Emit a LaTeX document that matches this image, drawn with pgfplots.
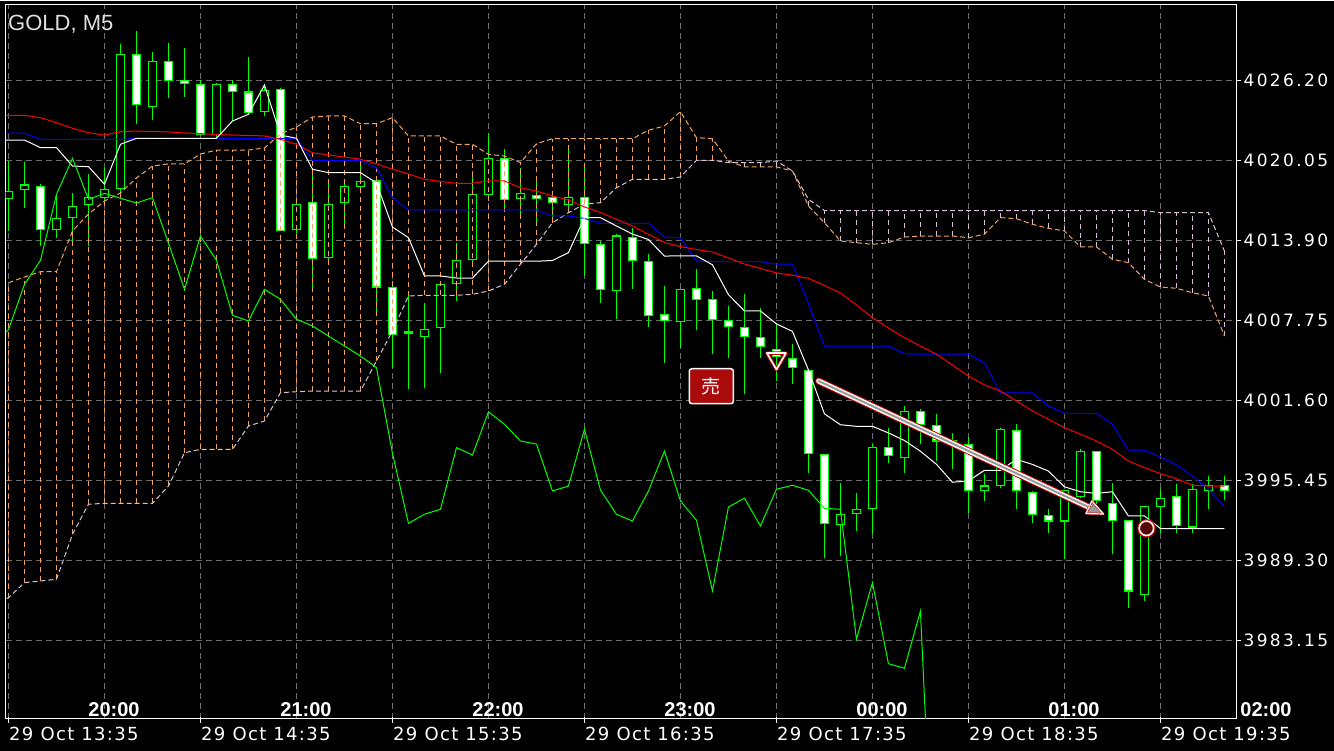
\documentclass[border=0pt]{standalone}
\usepackage{fontspec}
\setmainfont{Liberation Sans}
\newfontfamily\pricefont[LetterSpace=14]{DejaVu Sans}
\newfontfamily\datefont[LetterSpace=7.5]{DejaVu Sans}
\newfontfamily\cjk{Noto Sans CJK JP}
\usepackage{pgfplots}
\pgfplotsset{compat=1.18}
\usepackage{pgfplotstable}
\usetikzlibrary{calc}

\definecolor{cLime}{HTML}{00FF00}
\definecolor{cSandy}{HTML}{F4A460}
\definecolor{cThistle}{HTML}{D8BFD8}
\definecolor{cGrid}{HTML}{6E6E6E}
\definecolor{cKijun}{HTML}{0000FF}
\definecolor{cRed}{HTML}{FF0000}
\definecolor{cSell}{HTML}{AA0A0A}
\definecolor{cMarkRed}{HTML}{C80000}
\definecolor{cDarkRed}{HTML}{5A0505}

\pgfplotstableread{
k o h l c
0 4017.13 4020.00 4014.62 4017.64
1 4017.82 4019.94 4016.41 4018.15
2 4018.05 4018.21 4013.46 4014.75
3 4014.75 4017.44 4014.10 4015.59
4 4015.67 4017.54 4013.46 4016.51
5 4016.67 4019.00 4013.46 4017.18
6 4017.18 4019.48 4016.54 4017.79
7 4017.90 4029.01 4017.18 4028.20
8 4028.20 4029.99 4022.82 4024.35
9 4024.20 4028.40 4023.17 4027.66
10 4027.66 4029.07 4024.86 4026.20
11 4026.15 4028.71 4024.92 4025.99
12 4025.89 4026.20 4021.92 4022.05
13 4022.05 4026.02 4021.79 4025.89
14 4025.89 4026.20 4023.07 4025.32
15 4025.30 4027.99 4023.59 4023.76
16 4023.82 4025.89 4023.46 4025.43
17 4025.51 4025.59 4014.62 4014.69
18 4014.75 4017.15 4014.46 4016.67
19 4016.82 4019.48 4010.13 4012.52
20 4012.59 4018.46 4012.31 4016.67
21 4016.82 4018.61 4015.00 4018.00
22 4018.05 4019.61 4017.92 4018.44
23 4018.46 4018.61 4008.08 4010.31
24 4010.26 4010.77 4004.11 4006.67
25 4006.85 4009.62 4002.45 4006.77
26 4006.52 4009.10 4002.57 4007.03
27 4007.18 4010.52 4003.72 4010.52
28 4010.59 4013.72 4009.23 4012.36
29 4012.44 4019.23 4012.15 4017.44
30 4017.44 4022.17 4016.92 4020.20
31 4020.20 4020.90 4016.38 4017.05
32 4017.13 4019.48 4015.64 4017.51
33 4017.36 4018.61 4015.00 4017.13
34 4017.21 4017.54 4015.46 4016.77
35 4016.67 4020.92 4016.08 4017.18
36 4017.18 4019.46 4011.16 4013.67
37 4013.59 4013.85 4009.10 4010.13
38 4010.06 4014.41 4007.83 4014.23
39 4014.15 4014.87 4010.13 4012.36
40 4012.26 4012.82 4007.24 4008.13
41 4008.21 4010.39 4004.49 4007.70
42 4007.67 4010.13 4005.64 4010.13
43 4010.18 4011.67 4006.98 4009.36
44 4009.33 4010.00 4005.14 4007.83
45 4007.75 4008.85 4004.87 4007.31
46 4007.18 4009.75 4002.06 4006.54
47 4006.41 4008.72 4004.87 4005.77
48 4005.52 4007.57 4003.08 4005.00
49 4004.83 4005.90 4002.83 4004.11
50 4003.91 4003.95 3996.03 3997.53
51 3997.45 3997.50 3989.45 3992.14
52 3992.07 3995.27 3989.63 3992.84
53 3992.91 3994.50 3991.55 3993.22
54 3993.30 3998.22 3991.30 3997.96
55 3997.96 3999.49 3996.80 3997.39
56 3997.19 4001.16 3995.99 4000.72
57 4000.72 4000.91 3998.22 3999.76
58 3999.68 4000.52 3996.93 3998.47
59 3998.47 3999.09 3996.30 3998.24
60 3998.22 3998.78 3992.96 3994.63
61 3994.63 3995.91 3993.86 3995.01
62 3995.07 3999.49 3994.88 3999.37
63 3999.29 3999.76 3993.22 3994.70
64 3994.50 3994.63 3992.19 3992.84
65 3992.76 3993.22 3991.42 3992.32
66 3992.32 3994.63 3989.38 3994.63
67 3994.24 3997.83 3994.11 3997.70
68 3997.70 3997.72 3993.61 3993.86
69 3993.68 3995.27 3989.76 3992.38
70 3992.38 3992.40 3985.66 3986.94
71 3986.69 3993.40 3986.17 3993.40
72 3993.40 3994.76 3991.42 3994.07
73 3994.22 3995.14 3991.42 3991.94
74 3991.86 3995.14 3991.42 3994.76
75 3994.63 3995.78 3993.22 3995.07
76 3995.07 3995.78 3993.91 3994.68
}\candles

% cloud, part where span A is above span B (sandy hatching)
\pgfplotstableread{
k A B
0 4010.64 3986.43
1 4011.08 3987.58
2 4011.49 3987.71
3 4011.49 3987.84
4 4014.62 3991.30
5 4015.92 3993.61
6 4016.92 3993.68
7 4017.54 3993.68
8 4018.69 3993.68
9 4019.61 3993.68
10 4019.77 3995.01
11 4019.77 3997.57
12 4020.53 3997.83
13 4020.84 3997.83
14 4020.84 3997.83
15 4020.84 3999.62
16 4021.00 4000.01
17 4022.07 4002.18
18 4022.61 4002.26
19 4023.38 4002.31
20 4023.46 4002.31
21 4023.46 4002.31
22 4022.86 4002.31
23 4022.86 4004.62
24 4023.33 4006.93
25 4021.92 4009.62
26 4021.92 4009.67
27 4021.92 4009.67
28 4021.28 4009.67
29 4021.28 4009.75
30 4020.51 4010.00
31 4020.38 4010.52
32 4019.87 4012.06
33 4021.33 4013.59
34 4021.71 4015.25
35 4021.71 4016.02
36 4021.71 4016.69
37 4021.71 4016.79
38 4021.71 4017.94
39 4021.71 4018.59
40 4022.36 4018.59
41 4022.69 4018.59
42 4023.79 4018.77
43 4021.79 4020.05
44 4021.71 4020.05
45 4020.00 4019.87
}\cloudup

% cloud, part where span B is above span A (thistle hatching)
\pgfplotstableread{
k A B
46 4019.54 4019.87
47 4019.54 4019.87
48 4019.54 4020.00
50 4016.54 4017.05
51 4015.25 4016.19
52 4013.85 4016.19
53 4013.72 4016.19
54 4013.59 4016.19
55 4013.72 4016.19
56 4014.15 4016.19
57 4014.23 4016.19
58 4014.23 4016.19
59 4014.23 4016.19
60 4014.10 4016.19
61 4014.36 4016.19
62 4015.64 4016.19
63 4015.56 4016.19
64 4015.13 4016.19
65 4014.82 4016.19
66 4014.62 4016.19
67 4013.39 4016.19
68 4013.39 4016.19
69 4012.44 4016.19
70 4012.18 4016.19
71 4010.90 4016.19
72 4010.31 4016.02
73 4010.21 4016.02
74 4009.87 4016.02
75 4009.62 4016.02
76 4006.54 4013.08
}\clouddown

% full senkou spans (for the boundary lines)
\pgfplotstableread{
k A B
-1 4010.64 3985.79
0 4010.64 3986.43
1 4011.08 3987.58
2 4011.49 3987.71
3 4011.49 3987.84
4 4014.62 3991.30
5 4015.92 3993.61
6 4016.92 3993.68
7 4017.54 3993.68
8 4018.69 3993.68
9 4019.61 3993.68
10 4019.77 3995.01
11 4019.77 3997.57
12 4020.53 3997.83
13 4020.84 3997.83
14 4020.84 3997.83
15 4020.84 3999.62
16 4021.00 4000.01
17 4022.07 4002.18
18 4022.61 4002.26
19 4023.38 4002.31
20 4023.46 4002.31
21 4023.46 4002.31
22 4022.86 4002.31
23 4022.86 4004.62
24 4023.33 4006.93
25 4021.92 4009.62
26 4021.92 4009.67
27 4021.92 4009.67
28 4021.28 4009.67
29 4021.28 4009.75
30 4020.51 4010.00
31 4020.38 4010.52
32 4019.87 4012.06
33 4021.33 4013.59
34 4021.71 4015.25
35 4021.71 4016.02
36 4021.71 4016.69
37 4021.71 4016.79
38 4021.71 4017.94
39 4021.71 4018.59
40 4022.36 4018.59
41 4022.69 4018.59
42 4023.79 4018.77
43 4021.79 4020.05
44 4021.71 4020.05
45 4020.00 4019.87
46 4019.54 4019.87
47 4019.54 4019.87
48 4019.54 4020.00
49 4019.23 4019.23
50 4016.54 4017.05
51 4015.25 4016.19
52 4013.85 4016.19
53 4013.72 4016.19
54 4013.59 4016.19
55 4013.72 4016.19
56 4014.15 4016.19
57 4014.23 4016.19
58 4014.23 4016.19
59 4014.23 4016.19
60 4014.10 4016.19
61 4014.36 4016.19
62 4015.64 4016.19
63 4015.56 4016.19
64 4015.13 4016.19
65 4014.82 4016.19
66 4014.62 4016.19
67 4013.39 4016.19
68 4013.39 4016.19
69 4012.44 4016.19
70 4012.18 4016.19
71 4010.90 4016.19
72 4010.31 4016.02
73 4010.21 4016.02
74 4009.87 4016.02
75 4009.62 4016.02
76 4006.54 4013.08
}\cloud

\pgfplotstableread{
k v
-1 4021.61
0 4021.61
1 4021.61
2 4021.02
3 4021.02
4 4019.61
5 4019.56
6 4018.21
7 4021.28
8 4021.74
9 4021.74
10 4021.74
11 4021.74
12 4021.74
13 4021.74
14 4023.07
15 4023.59
16 4025.84
17 4021.99
18 4021.74
19 4019.36
20 4019.10
21 4019.10
22 4019.10
23 4018.31
24 4014.92
25 4014.10
26 4011.16
27 4011.16
28 4011.00
29 4011.00
30 4012.29
31 4012.29
32 4012.29
33 4012.29
34 4012.35
35 4012.95
36 4015.65
37 4015.64
38 4015.00
39 4014.38
40 4013.96
41 4012.69
42 4012.70
43 4012.70
44 4012.02
45 4009.72
46 4008.47
47 4008.47
48 4007.47
49 4006.90
50 4003.93
51 4000.56
52 3999.72
53 3999.60
54 3999.60
55 3999.09
56 3998.51
57 3997.68
58 3996.68
59 3995.30
60 3995.40
61 3996.22
62 3996.22
63 3997.06
64 3996.67
65 3996.16
66 3994.95
67 3994.57
68 3994.44
69 3994.57
70 3992.71
71 3992.71
72 3991.74
73 3991.74
74 3991.74
75 3991.74
76 3991.74
}\tenkan

\pgfplotstableread{
k v
-1 4022.13
0 4022.13
1 4022.13
2 4021.66
3 4021.66
4 4021.66
5 4021.66
6 4021.66
7 4021.66
8 4021.74
9 4021.74
10 4021.74
11 4021.74
12 4021.74
13 4021.74
14 4021.74
15 4021.74
16 4021.74
17 4021.74
18 4021.74
19 4020.05
20 4020.05
21 4020.05
22 4020.05
23 4019.48
24 4017.18
25 4016.23
26 4016.23
27 4016.23
28 4016.23
29 4016.23
30 4016.23
31 4016.23
32 4016.23
33 4016.23
34 4015.77
35 4015.77
36 4015.58
37 4015.21
38 4015.21
39 4015.21
40 4015.21
41 4014.15
42 4014.08
43 4012.31
44 4012.27
45 4012.27
46 4012.27
47 4012.27
48 4012.06
49 4012.06
50 4009.04
51 4005.77
52 4005.77
53 4005.77
54 4005.77
55 4005.77
56 4005.18
57 4005.14
58 4005.14
59 4005.14
60 4005.14
61 4004.49
62 4002.18
63 4002.18
64 4002.18
65 4001.16
66 4000.60
67 4000.60
68 4000.60
69 3999.76
70 3997.76
71 3997.76
72 3997.24
73 3996.63
74 3995.78
75 3994.76
76 3993.47
}\kijun

\pgfplotstableread{
k v
-1 4023.51
0 4023.51
1 4023.51
2 4023.33
3 4022.94
4 4022.51
5 4022.17
6 4021.99
7 4022.25
8 4022.30
9 4022.26
10 4022.23
11 4022.15
12 4022.10
13 4022.03
14 4021.99
15 4021.96
16 4021.92
17 4021.66
18 4021.28
19 4020.63
20 4020.46
21 4020.30
22 4020.13
23 4019.77
24 4019.36
25 4019.00
26 4018.59
27 4018.42
28 4018.28
29 4018.28
30 4018.46
31 4018.46
32 4017.94
33 4017.69
34 4017.31
35 4017.00
36 4016.46
37 4016.04
38 4015.51
39 4015.00
40 4014.36
41 4013.72
42 4013.42
43 4013.19
44 4013.00
45 4012.54
46 4012.08
47 4011.73
48 4011.39
49 4011.21
50 4010.98
51 4010.43
52 4009.85
53 4008.93
54 4007.95
55 4007.16
56 4006.41
57 4005.77
58 4005.14
59 4004.31
60 4003.47
61 4002.78
62 4002.32
63 4001.55
64 4000.78
65 4000.14
66 3999.49
67 3998.99
68 3998.47
69 3997.83
70 3996.93
71 3996.42
72 3995.96
73 3995.57
74 3995.07
75 3995.01
76 3995.01
}\redline

\pgfplotstableread{
k v
-1 4005.96
0 4007.03
1 4010.52
2 4012.36
3 4017.44
4 4020.20
5 4017.05
6 4017.51
7 4017.13
8 4016.77
9 4017.18
10 4013.67
11 4010.13
12 4014.23
13 4012.36
14 4008.13
15 4007.70
16 4010.13
17 4009.36
18 4007.83
19 4007.31
20 4006.54
21 4005.77
22 4005.00
23 4004.11
24 3997.53
25 3992.14
26 3992.84
27 3993.22
28 3997.96
29 3997.39
30 4000.72
31 3999.76
32 3998.47
33 3998.24
34 3994.63
35 3995.01
36 3999.37
37 3994.70
38 3992.84
39 3992.32
40 3994.63
41 3997.70
42 3993.86
43 3992.38
44 3986.94
45 3993.40
46 3994.07
47 3991.94
48 3994.76
49 3995.07
50 3994.68
51 3993.30
52 3993.22
53 3983.23
54 3987.58
55 3981.35
56 3981.00
57 3985.40
58 3958.88
}\chikou

\begin{document}
\begin{tikzpicture}[x=1pt,y=1pt]
\fill[black] (0,0) rectangle (1334,750);
\begin{axis}[
  at={(5.5pt,32pt)}, anchor=south west,
  scale only axis, width=1231pt, height=714pt,
  xmin=-0.1875, xmax=76.75, ymin=3977.10, ymax=4031.99,
  axis background/.style={fill=black},
  axis line style={draw=white, line width=1pt},
  xtick={0,6,...,72}, xticklabels={},
  xtick style={draw=none},
  ytick={3983.15,3989.30,3995.45,4001.60,4007.75,4013.90,4020.05,4026.20},
  yticklabels={3983.15,3989.30,3995.45,4001.60,4007.75,4013.90,4020.05,4026.20},
  ytick pos=right, yticklabel pos=right,
  ytick style={draw=white, line width=1pt},
  tick align=outside, major tick length=5pt,
  yticklabel style={font=\pricefont\fontsize{17}{17}\selectfont, text=white, anchor=west, inner sep=0pt, xshift=2pt},
  grid=major,
  major grid style={draw=cGrid, line width=1pt, dash pattern=on 6pt off 4pt},
]
% wicks
\addplot[cLime, line width=1.2pt, mark=none, forget plot,
  quiver={u=0, v=\thisrow{h}-\thisrow{l}}]
  table[x=k, y=l] {\candles};
% body outline
\addplot[cLime, line width=9pt, mark=none, forget plot,
  quiver={u=0, v=abs(\thisrow{o}-\thisrow{c})+0.08}]
  table[x=k, y expr={min(\thisrow{o},\thisrow{c})-0.04}] {\candles};
% bull bodies (black)
\addplot[black, line width=7pt, mark=none, forget plot,
  restrict expr to domain={\thisrow{c}-\thisrow{o}}{0.1:1000},
  quiver={u=0, v=\thisrow{c}-\thisrow{o}-0.08}]
  table[x=k, y expr={\thisrow{o}+0.04}] {\candles};
% bear bodies (white)
\addplot[white, line width=7pt, mark=none, forget plot,
  restrict expr to domain={\thisrow{o}-\thisrow{c}}{0.1:1000},
  quiver={u=0, v=\thisrow{o}-\thisrow{c}-0.08}]
  table[x=k, y expr={\thisrow{c}+0.04}] {\candles};

% cloud hatching
\addplot[draw=cSandy, line width=1pt, dash pattern=on 5pt off 4pt, mark=none, forget plot,
  quiver={u=0, v=\thisrow{A}-\thisrow{B}}]
  table[x=k, y=B] {\cloudup};
\addplot[draw=cThistle, line width=1pt, dash pattern=on 5pt off 4pt, mark=none, forget plot,
  quiver={u=0, v=\thisrow{B}-\thisrow{A}}]
  table[x=k, y=A] {\clouddown};
% senkou spans
\addplot[cSandy, line width=1pt, dash pattern=on 5pt off 3pt, mark=none] table[x=k, y=A] {\cloud};
\addplot[cThistle, line width=1pt, dash pattern=on 5pt off 3pt, mark=none] table[x=k, y=B] {\cloud};
% lines
\addplot[cKijun, line width=1pt, mark=none] table[x=k, y=v] {\kijun};
\addplot[cRed, line width=1pt, mark=none] table[x=k, y=v] {\redline};
\addplot[white, line width=1pt, mark=none] table[x=k, y=v] {\tenkan};
\addplot[cLime, line width=1pt, mark=none] table[x=k, y=v] {\chikou};

% trade arrow
\coordinate (S) at (axis cs:50.64,4003.08);
\coordinate (T) at (axis cs:68.44,3992.86);
\coordinate (B) at ($(T)!16pt!(S)$);
\coordinate (B1) at ($(B)!7pt!90:(T)$);
\coordinate (B2) at ($(B)!7pt!-90:(T)$);
\draw[line width=7pt, draw=cMarkRed, line cap=round] (S) -- (B);
\draw[line width=5pt, draw=white, line cap=round] (S) -- (B);
\draw[line width=2pt, draw=gray!80, line cap=round] (S) -- (B);
\filldraw[draw=cMarkRed, line width=2.2pt, line join=round, fill=gray!80] (T) -- (B1) -- (B2) -- cycle;
\draw[draw=white, line width=1.2pt, line join=round] (T) -- (B1) -- (B2) -- cycle;

% sell marker
\addplot[only marks, mark=triangle, mark size=11pt, mark options={rotate=180, draw=cMarkRed, line width=3.5pt, line join=round, fill=black, fill opacity=0.45}] coordinates {(48,4004.81)};
\addplot[only marks, mark=triangle, mark size=11pt, mark options={rotate=180, draw=white, line width=1.6pt, line join=round, fill=none}] coordinates {(48,4004.81)};
% close marker
\addplot[only marks, mark=*, mark size=8.2pt, mark options={draw=cMarkRed, line width=2pt, fill=none}] coordinates {(71.125,3991.76)};
\addplot[only marks, mark=*, mark size=7.2pt, mark options={draw=white, line width=1.6pt, fill=cDarkRed}] coordinates {(71.125,3991.76)};

% sell label
\node[fill=cSell, draw=white, line width=1.5pt, rounded corners=2.5pt, minimum width=44pt, minimum height=35pt, inner sep=0pt, text=white, font=\cjk\fontsize{19}{19}\selectfont] at (axis cs:43.93,4002.68) {売};
\end{axis}

% title
\node[anchor=base west, inner sep=0pt, text=white!88!black, font=\fontsize{22}{22}\selectfont] at (8,720.7) {GOLD, M5};

% hour labels
\foreach \x/\t in {114/20:00, 306/21:00, 498/22:00, 690/23:00, 882/00:00, 1074/01:00, 1266/02:00}
  \node[anchor=base, inner sep=0pt, text=white, font=\bfseries\fontsize{20}{20}\selectfont] at (\x,34) {\t};

% date ticks and labels
\foreach \x in {8.5,200.5,392.5,584.5,776.5,968.5,1160.5}
  \draw[white, line width=1pt] (\x,28) -- (\x,34);
\foreach \x/\t in {9/13:35, 201/14:35, 393/15:35, 585/16:35, 777/17:35, 969/18:35, 1161/19:35}
  \node[anchor=base west, inner sep=0pt, text=white, font=\datefont\fontsize{18}{18}\selectfont] at (\x,10) {29 Oct \t};
\end{tikzpicture}
\end{document}
